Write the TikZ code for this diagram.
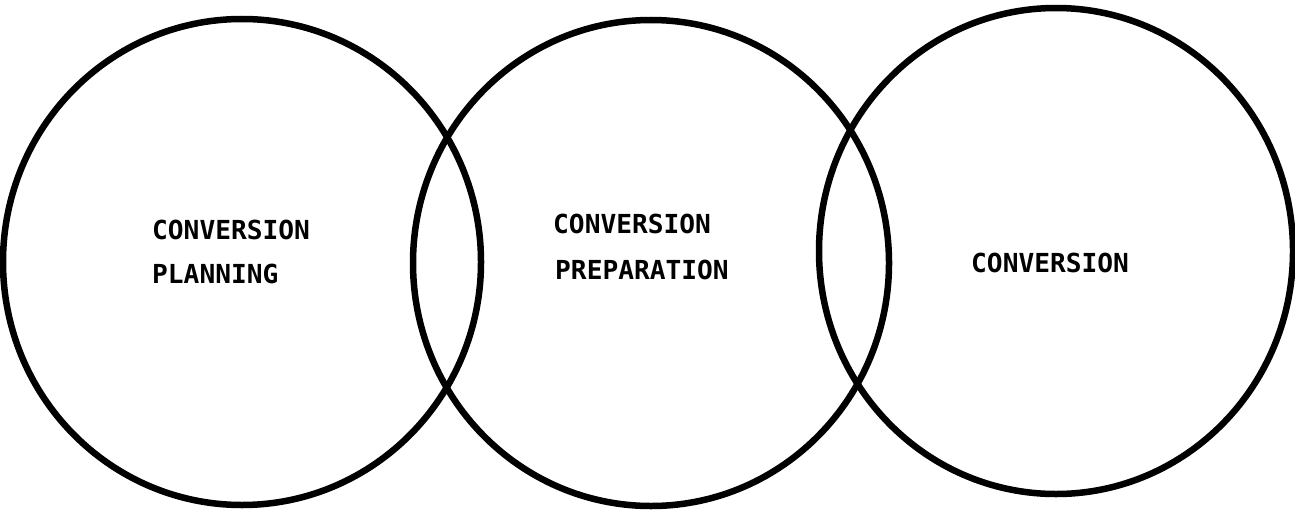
\documentclass[tikz,border=0pt]{standalone}
\usepackage{fontspec}
\newfontfamily\twfont{DejaVu Sans Mono}
\begin{document}
\begin{tikzpicture}[x=1pt,y=-1pt,
  ring/.style={draw=black, line width=6.5pt},
  lbl/.style={anchor=base west, inner sep=0pt, font=\twfont\bfseries\fontsize{26.2}{30}\selectfont}]
\useasboundingbox (0,0) rectangle (1295,511);
\draw[ring] (242,262) ellipse [x radius=239pt, y radius=243pt];
\draw[ring] (651,263) ellipse [x radius=238pt, y radius=243pt];
\draw[ring] (1056,251) ellipse [x radius=237pt, y radius=243pt];
\node[lbl] (p1) at (152,239) {CONVERSION};
\node[lbl] (p2) at (152,283) {PLANNING};
\node[lbl] (q1) at (553,233) {CONVERSION};
\node[lbl] (q2) at (555,279) {PREPARATION};
\node[lbl] (r1) at (971,272) {CONVERSION};
\end{tikzpicture}
\end{document}
